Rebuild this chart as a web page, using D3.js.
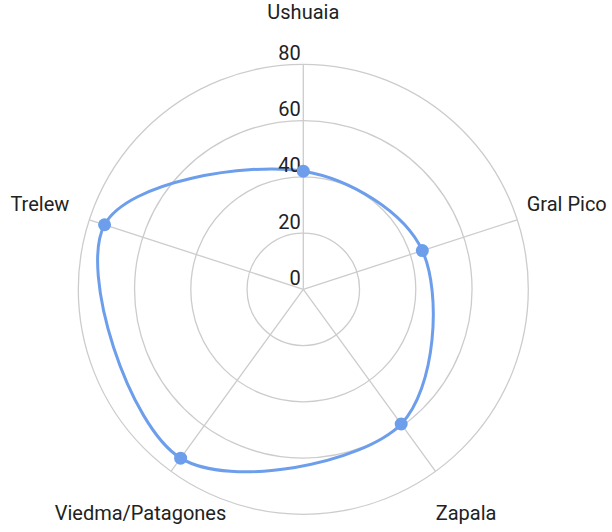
<!DOCTYPE html>
<html>
<head>
<meta charset="utf-8">
<script src="https://cdn.jsdelivr.net/npm/d3@7"></script>
<style>
  body { margin: 0; background: #fff; }
  text { font-family: Roboto, sans-serif; fill: #222; }
</style>
</head>
<body>
<script>
//radar chart data
var cities = ["Ushuaia", "Gral Pico", "Zapala", "Viedma/Patagones", "Trelew"];
var values = [42, 44.5, 59.2, 74.2, 74.3];
var tickValues = [0, 20, 40, 60, 80];

var w = 612, h = 532;
var cx = 303.3, cy = 289.3;

var svg = d3.select("body").append("svg")
    .attr("width", w)
    .attr("height", h);

var g = svg.append("g")
    .attr("transform", "translate(" + cx + "," + cy + ")");

//radius scale
var r = d3.scaleLinear()
    .domain([0, 80])
    .range([0, 225]);

//angle for each city, clockwise from top
var angle = d3.scalePoint()
    .domain(cities)
    .range([0, 2 * Math.PI * (cities.length - 1) / cities.length]);

function px(a, rad) { return Math.sin(a) * rad; }
function py(a, rad) { return -Math.cos(a) * rad; }

//grid rings
g.selectAll(".ring")
    .data(tickValues.filter(function(d){ return d > 0; }))
    .enter()
    .append("circle")
    .attr("class", "ring")
    .attr("r", function(d){ return r(d); })
    .style("fill", "none")
    .style("stroke", "#cccccc")
    .style("stroke-width", 1.3);

//spokes
g.selectAll(".spoke")
    .data(cities)
    .enter()
    .append("line")
    .attr("class", "spoke")
    .attr("x1", 0).attr("y1", 0)
    .attr("x2", function(d){ return px(angle(d), r(80)); })
    .attr("y2", function(d){ return py(angle(d), r(80)); })
    .style("stroke", "#cccccc")
    .style("stroke-width", 1.3);

//data line
var line = d3.lineRadial()
    .angle(function(d, i){ return angle(cities[i]); })
    .radius(function(d){ return r(d); })
    .curve(d3.curveCatmullRomClosed.alpha(0.5));

g.append("path")
    .datum(values)
    .attr("d", line)
    .style("fill", "none")
    .style("stroke", "#6d9eeb")
    .style("stroke-width", 3);

//tick labels (drawn over the line)
g.selectAll(".tick")
    .data(tickValues)
    .enter()
    .append("text")
    .attr("class", "tick")
    .attr("x", -2.5)
    .attr("y", function(d){ return -r(d) - 4.5; })
    .attr("text-anchor", "end")
    .style("font-size", "20px")
    .text(function(d){ return d; });

//points
g.selectAll(".dot")
    .data(values)
    .enter()
    .append("circle")
    .attr("class", "dot")
    .attr("cx", function(d, i){ return px(angle(cities[i]), r(d)); })
    .attr("cy", function(d, i){ return py(angle(cities[i]), r(d)); })
    .attr("r", 6.5)
    .style("fill", "#6d9eeb");

//city labels
g.selectAll(".city")
    .data(cities)
    .enter()
    .append("text")
    .attr("class", "city")
    .attr("x", function(d){ return px(angle(d), 277); })
    .attr("y", function(d){ return py(angle(d), 277); })
    .attr("dy", "0.35em")
    .attr("text-anchor", "middle")
    .style("font-size", "20px")
    .text(function(d){ return d; });
</script>
</body>
</html>
